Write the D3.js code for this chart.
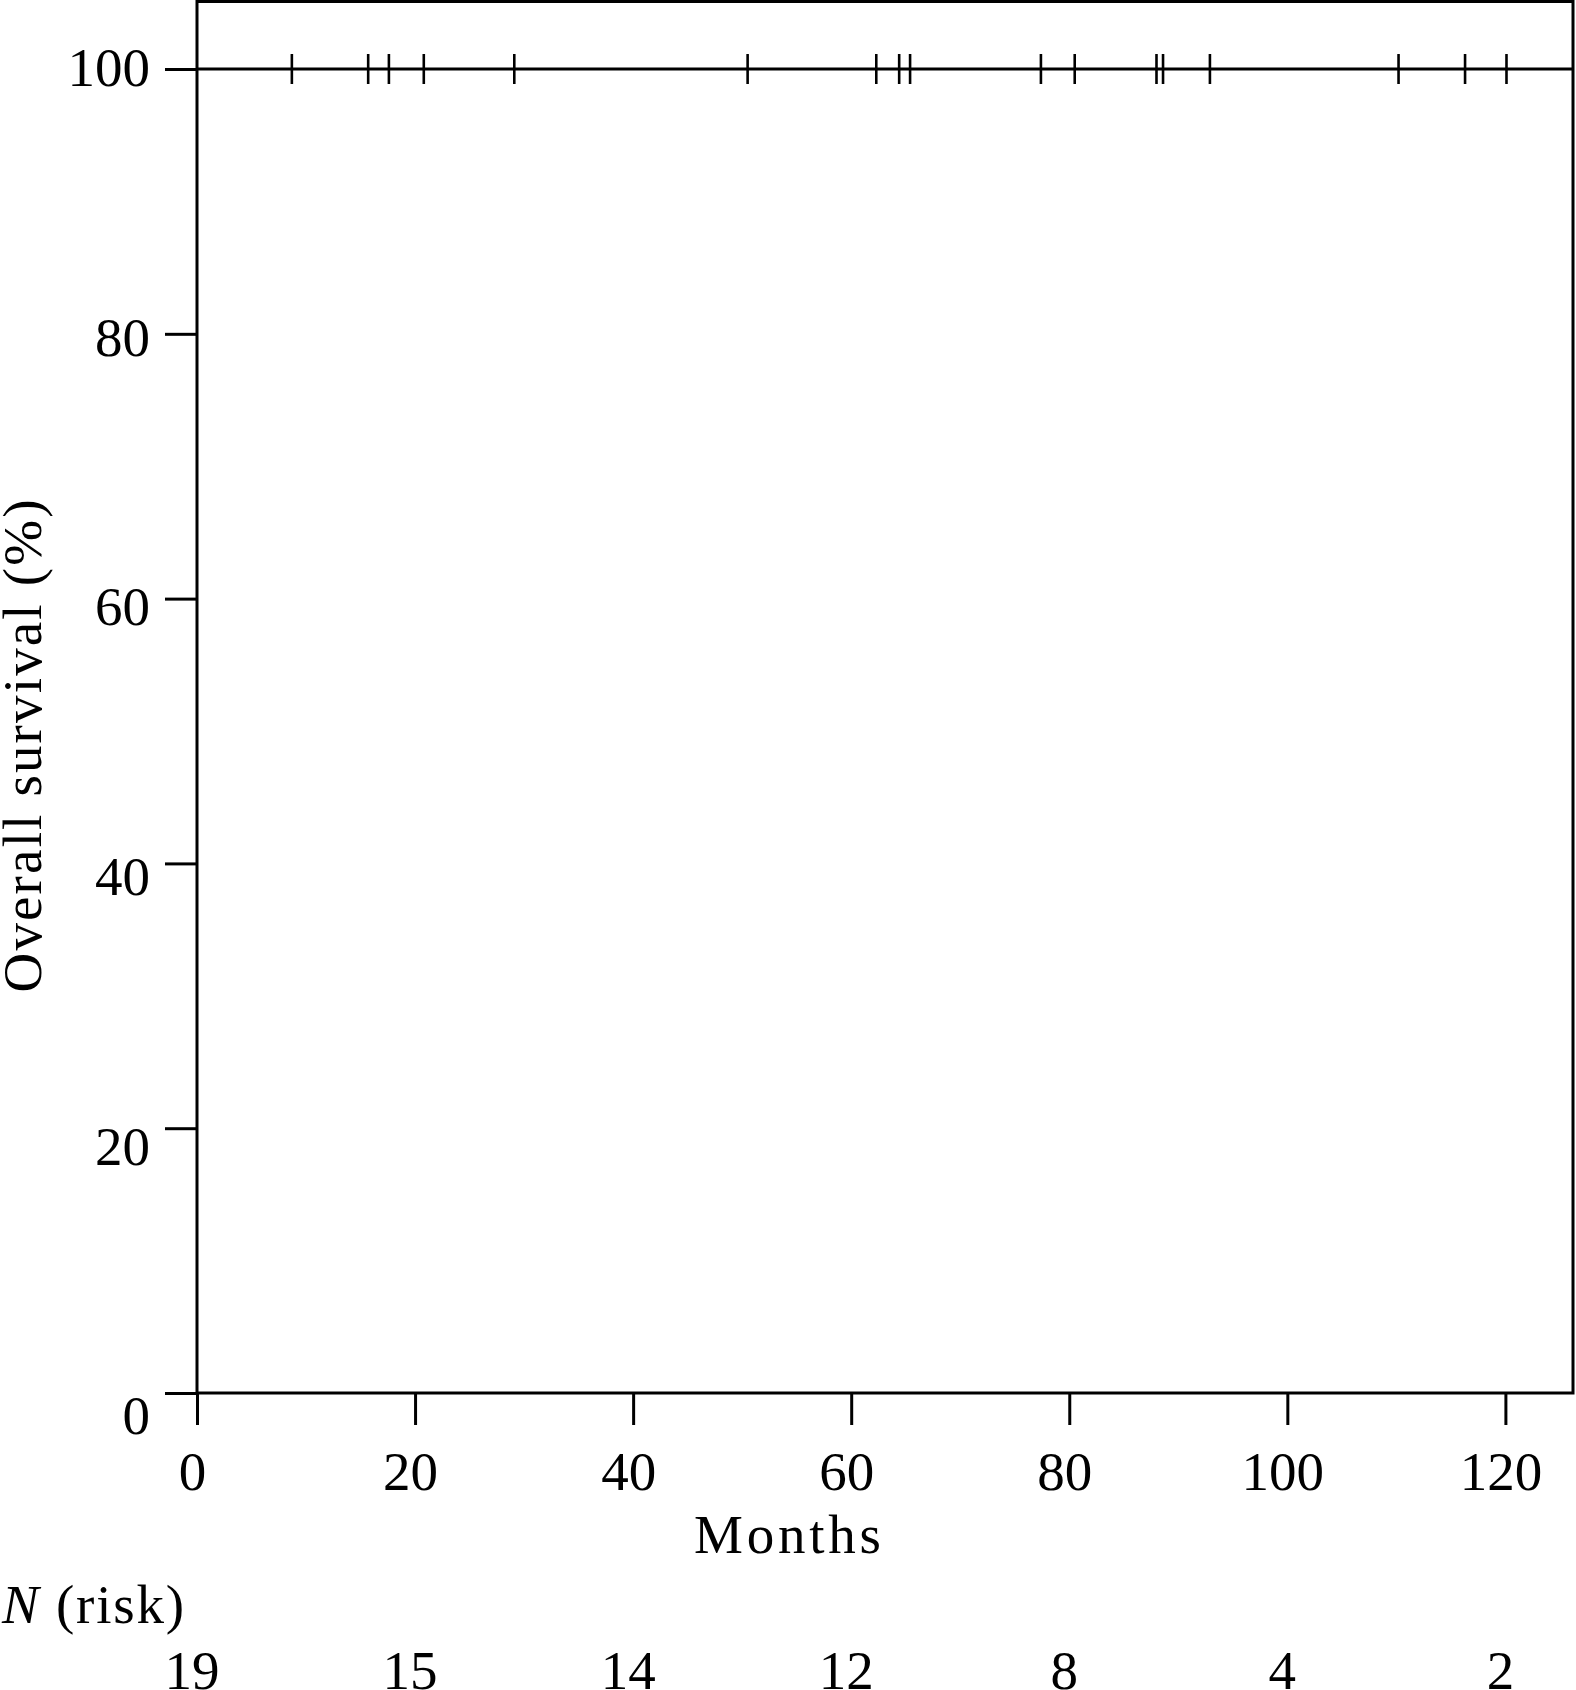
<!DOCTYPE html>
<html>
<head>
<meta charset="utf-8">
<script src="https://cdn.jsdelivr.net/npm/d3@7"></script>
<style>
html, body { margin: 0; padding: 0; background: #fff; }
svg { display: block; }
text { font-family: "Liberation Serif", "Times New Roman", serif; fill: #000; }
</style>
</head>
<body>
<svg id="chart" width="1576" height="1690"></svg>
<script>
// ---- data ----
const monthTicks = [0, 20, 40, 60, 80, 100, 120];
const atRisk = [19, 15, 14, 12, 8, 4, 2];
const yTicks = [0, 20, 40, 60, 80, 100];
const survivalTimes = [0, 126.2];
const survivalValues = [100, 100];
const censorTimes = [8.7, 15.7, 17.6, 20.8, 29.1, 50.5, 62.3, 64.4, 65.4, 77.4, 80.5, 88.0, 88.6, 92.9, 110.2, 116.3, 120.1];

// ---- layout ----
const plotLeft = 197, plotRight = 1573, plotTop = 1.5, plotBottom = 1393;
const fontSize = 55;

const svg = d3.select("#chart");
const x = d3.scaleLinear().domain([0, 126.2]).range([plotLeft, plotRight]);
const y = d3.scaleLinear().domain([0, 105.1]).range([plotBottom, plotTop]);
// label placement scale (labels sit slightly spread vs ticks in the original)
const yLab = d3.scaleLinear().domain([0, 100]).range([1415, 67]);

// frame
svg.append("rect")
  .attr("x", plotLeft).attr("y", plotTop)
  .attr("width", plotRight - plotLeft).attr("height", plotBottom - plotTop)
  .attr("fill", "none").attr("stroke", "#000").attr("stroke-width", 3);

// x axis
const xAxis = svg.append("g")
  .attr("transform", `translate(0,${plotBottom})`)
  .call(d3.axisBottom(x).tickValues(monthTicks).tickSizeInner(32).tickSizeOuter(0).tickFormat(d3.format("d")));
xAxis.select(".domain").remove();
xAxis.selectAll(".tick line").attr("stroke", "#000").attr("stroke-width", 3);
xAxis.selectAll(".tick text")
  .attr("y", 97).attr("dy", 0).attr("x", -5)
  .style("font-size", fontSize + "px")
  .style("font-family", "'Liberation Serif', serif");

// y axis
const yAxis = svg.append("g")
  .attr("transform", `translate(${plotLeft},0)`)
  .call(d3.axisLeft(y).tickValues(yTicks).tickSizeInner(32).tickSizeOuter(0).tickFormat(d3.format("d")));
yAxis.select(".domain").remove();
yAxis.selectAll(".tick line").attr("stroke", "#000").attr("stroke-width", 3);
yAxis.selectAll(".tick text")
  .attr("x", -47)
  .attr("y", d => yLab(d) - y(d))
  .attr("dy", "0.34em")
  .attr("text-anchor", "end")
  .style("font-size", fontSize + "px")
  .style("font-family", "'Liberation Serif', serif");

// survival line
const line = d3.line().x(d => x(d[0])).y(d => y(d[1])).curve(d3.curveStepAfter);
svg.append("path")
  .datum(survivalTimes.map((t, i) => [t, survivalValues[i]]))
  .attr("d", line)
  .attr("fill", "none").attr("stroke", "#000").attr("stroke-width", 3);

// censor marks
svg.append("g").selectAll("line")
  .data(censorTimes)
  .join("line")
  .attr("x1", d => x(d)).attr("x2", d => x(d))
  .attr("y1", y(100) - 15).attr("y2", y(100) + 15)
  .attr("stroke", "#000").attr("stroke-width", 2.6);

// axis titles
svg.append("text")
  .attr("x", 694).attr("y", 1553)
  .attr("textLength", 187).attr("lengthAdjust", "spacing")
  .style("font-size", fontSize + "px")
  .text("Months");

svg.append("text")
  .attr("transform", "translate(41,746) rotate(-90)")
  .attr("text-anchor", "middle")
  .attr("textLength", 493).attr("lengthAdjust", "spacing")
  .style("font-size", fontSize + "px")
  .text("Overall survival (%)");

// risk table
const riskLabel = svg.append("text")
  .attr("x", 2).attr("y", 1623)
  .attr("textLength", 182).attr("lengthAdjust", "spacing")
  .style("font-size", fontSize + "px");
riskLabel.append("tspan").style("font-style", "italic").text("N");
riskLabel.append("tspan").text(" (risk)");

svg.append("g").selectAll("text")
  .data(atRisk)
  .join("text")
  .attr("x", (d, i) => x(monthTicks[i]) - 5)
  .attr("y", 1689)
  .attr("text-anchor", "middle")
  .style("font-size", fontSize + "px")
  .text(d => d);
</script>
</body>
</html>
